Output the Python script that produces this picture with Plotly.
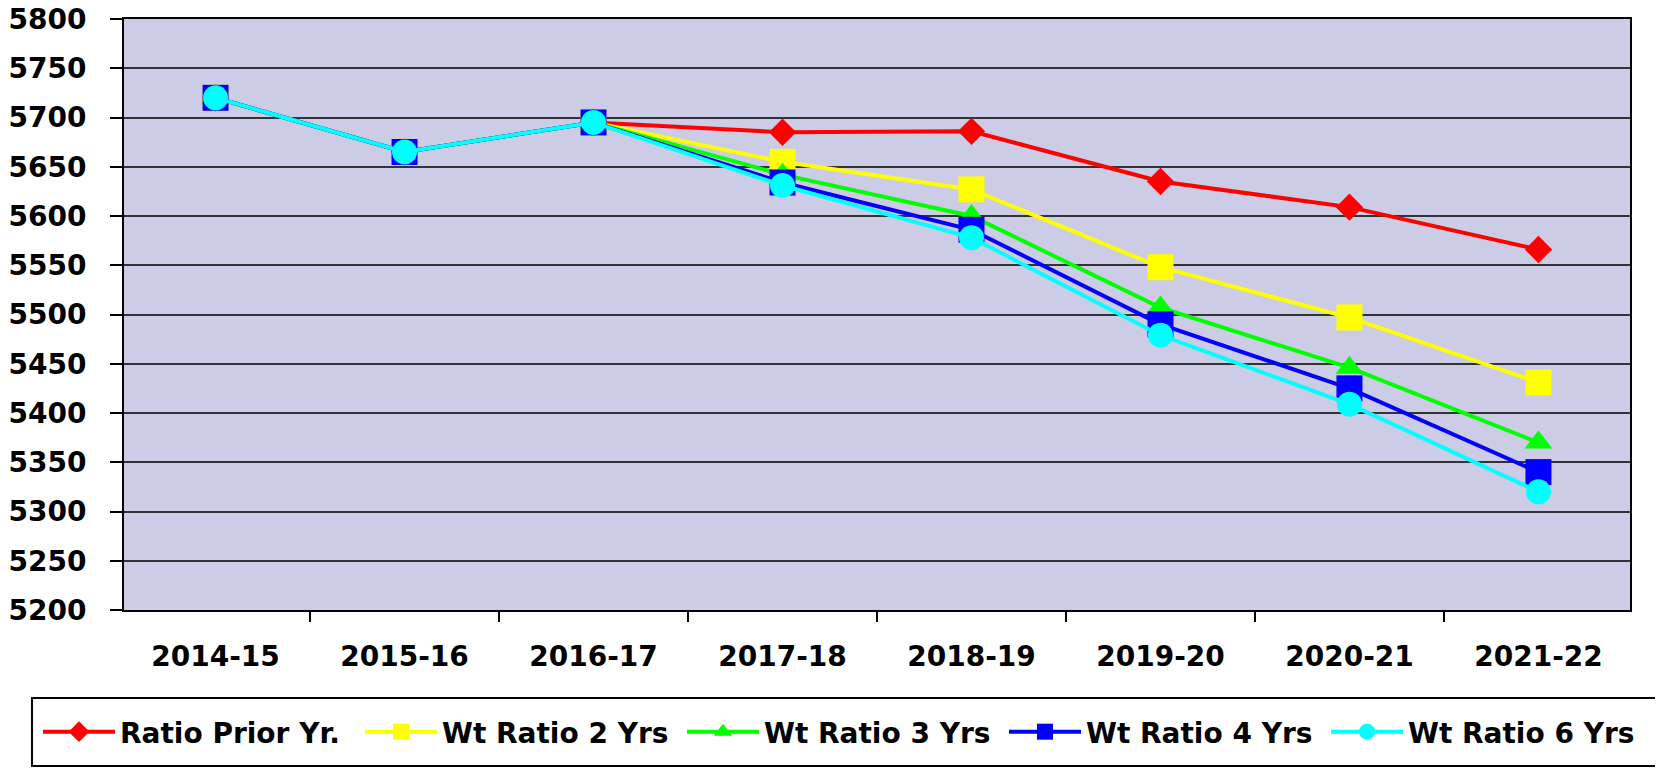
import plotly.graph_objects as go

categories = ["2014-15", "2015-16", "2016-17", "2017-18", "2018-19", "2019-20", "2020-21", "2021-22"]
ratio_prior = [5720, 5665, 5695, 5685, 5686, 5635, 5609, 5566]
wt_ratio_2 = [5720, 5665, 5695, 5655, 5627, 5548, 5497, 5431]
wt_ratio_3 = [5720, 5665, 5695, 5642, 5600, 5507, 5446, 5370]
wt_ratio_4 = [5720, 5665, 5695, 5634, 5586, 5490, 5425, 5340]
wt_ratio_6 = [5720, 5665, 5695, 5631, 5578, 5479, 5409, 5320]
y_ticks = list(range(5200, 5801, 50))

series = [
    ("Ratio Prior Yr.", ratio_prior, "#FF0000", "diamond", 21),
    ("Wt Ratio 2 Yrs", wt_ratio_2, "#FFFF00", "square", 26),
    ("Wt Ratio 3 Yrs", wt_ratio_3, "#00FF00", "triangle-up", 24),
    ("Wt Ratio 4 Yrs", wt_ratio_4, "#0000FF", "square", 26),
    ("Wt Ratio 6 Yrs", wt_ratio_6, "#00FFFF", "circle", 25),
]

fig = go.Figure()
for name, vals, col, sym, size in series:
    fig.add_trace(go.Scatter(
        x=categories, y=vals, name=name, mode="lines+markers",
        line=dict(color=col, width=4),
        marker=dict(symbol=sym, size=size, color=col, line=dict(width=0)),
    ))

# page has an 8px body margin; figure coords = page coords - 8
W, H = 1663, 768
L, R, T, B = 116, 41, 11, 166
pw, ph = W - L - R, H - T - B
fig.add_shape(
    type="rect", xref="paper", yref="paper",
    x0=(24 - L) / pw, x1=(1652 - L) / pw,
    y0=((H - B) - 758) / ph, y1=((H - B) - 690) / ph,
    line=dict(color="black", width=2), fillcolor="rgba(0,0,0,0)",
)

fig.update_layout(
    width=W, height=H,
    margin=dict(l=L, r=R, t=T, b=B, autoexpand=False),
    paper_bgcolor="white",
    plot_bgcolor="#CCCCE6",
    showlegend=True,
    legend=dict(
        orientation="h",
        xref="paper", yref="paper",
        x=(30 - L) / pw, xanchor="left",
        y=((H - B) - 724) / ph, yanchor="middle",
        borderwidth=0,
        bgcolor="rgba(0,0,0,0)",
        font=dict(family="DejaVu Sans", size=28, color="black", weight="bold"),
        itemwidth=72,
        entrywidth=235,
        entrywidthmode="pixels",
    ),
    xaxis=dict(
        type="category",
        tickson="boundaries",
        ticks="outside", ticklen=10, tickwidth=1.5, tickcolor="black",
        showline=True, linecolor="black", linewidth=2, mirror=True,
        showgrid=False,
        tickfont=dict(family="DejaVu Sans", size=28, color="black", weight="bold"),
        ticklabelstandoff=20,
        ticklabeloverflow="allow",
        automargin=False,
    ),
    yaxis=dict(
        range=[5200, 5800],
        tickvals=y_ticks,
        ticks="outside", ticklen=12, tickwidth=1.5, tickcolor="black",
        showline=True, linecolor="black", linewidth=2, mirror=True,
        showgrid=True, gridcolor="#333333", gridwidth=1.5,
        zeroline=False,
        tickfont=dict(family="DejaVu Sans", size=28, color="black", weight="bold"),
        ticklabelstandoff=18,
        ticklabeloverflow="allow",
        automargin=False,
    ),
)

fig.write_html("out.html")
